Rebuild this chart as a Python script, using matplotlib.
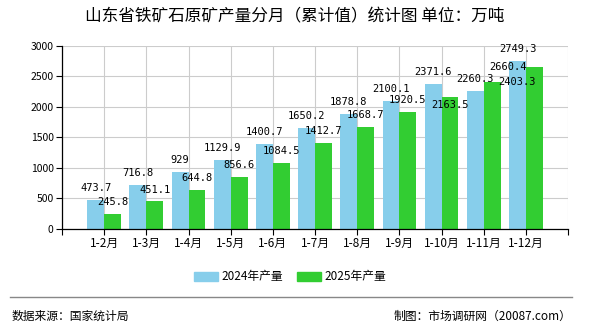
import numpy as np
import matplotlib.pyplot as plt
from matplotlib.patches import Patch
from matplotlib.lines import Line2D

plt.rcParams['font.family'] = ['Noto Sans CJK SC', 'DejaVu Sans']

# Dados do gráfico
meses = ["1-2月", "1-3月", "1-4月", "1-5月", "1-6月", "1-7月", "1-8月",
         "1-9月", "1-10月", "1-11月", "1-12月"]
prod_2024 = [473.7, 716.8, 929, 1129.9, 1400.7, 1650.2, 1878.8,
             2100.1, 2371.6, 2260.3, 2749.3]
prod_2025 = [245.8, 451.1, 644.8, 856.6, 1084.5, 1412.7, 1668.7,
             1920.5, 2163.5, 2403.3, 2660.4]
rotulos_2024 = ["473.7", "716.8", "929", "1129.9", "1400.7", "1650.2",
                "1878.8", "2100.1", "2371.6", "2260.3", "2749.3"]
rotulos_2025 = ["245.8", "451.1", "644.8", "856.6", "1084.5", "1412.7",
                "1668.7", "1920.5", "2163.5", "2403.3", "2660.4"]

azul = "#87CEEB"
verde = "#32CD32"

fig = plt.figure(figsize=(5.9, 3.3), dpi=100)
ax = fig.add_axes([0.105, 0.306, 0.858, 0.555])

x = np.arange(len(meses))
w = 0.4
ax.bar(x - w / 2, prod_2024, w, color=azul, zorder=2)
ax.bar(x + w / 2, prod_2025, w, color=verde, zorder=2)

fonte_num = "DejaVu Sans Mono"
for i in range(len(meses)):
    ax.annotate(rotulos_2024[i], (x[i] - w / 2, prod_2024[i]), xytext=(0, 5),
                textcoords="offset points", ha="center", va="bottom",
                fontsize=7.5, family=fonte_num, zorder=3)

# rótulos de 2025 (alguns foram deslocados no original para evitar sobreposição)
desloc = {8: (0, -6, "center"), 9: (18, 0, "center"), 10: (-19, 0, "center")}
for i in range(len(meses)):
    dx, dy, va = desloc.get(i, (0, 5, "bottom"))
    ax.annotate(rotulos_2025[i], (x[i] + w / 2, prod_2025[i]), xytext=(dx, dy),
                textcoords="offset points", ha="center", va=va,
                fontsize=7.5, family=fonte_num, zorder=3)

# Eixos
ax.set_xlim(-1, len(meses))
ax.set_ylim(0, 3000)
ax.set_yticks(range(0, 3001, 500))
ax.set_yticklabels([str(v) for v in range(0, 3001, 500)], fontsize=7.5)
ax.set_xticks(np.arange(-1, len(meses) + 1))
ax.set_xticklabels([""] + meses + [""], fontsize=8.5)
ax.tick_params(axis="both", length=4, width=0.8, colors="black", pad=2)
ax.grid(True, color="#cccccc", linewidth=0.8, zorder=0)
ax.spines["top"].set_visible(False)
ax.spines["right"].set_visible(False)
ax.spines["left"].set_linewidth(0.9)
ax.spines["bottom"].set_linewidth(0.9)

# Título
fig.text(0.499, 0.95, "山东省铁矿石原矿产量分月（累计值）统计图 单位：万吨",
         ha="center", va="center", fontsize=12)

# Legenda
handles = [Patch(color=azul, label="2024年产量"), Patch(color=verde, label="2025年产量")]
fig.legend(handles=handles, loc="center", bbox_to_anchor=(0.492, 0.161), ncol=2,
           frameon=False, fontsize=8.5, handlelength=2.0, handleheight=0.8,
           columnspacing=1.2, handletextpad=0.3)

# Rodapé
fig.add_artist(Line2D([0.017, 0.969], [0.1, 0.1], color="#888888", linewidth=1))
fig.text(0.02, 0.042, "数据来源：国家统计局", ha="left", va="center", fontsize=8.5)
fig.text(0.969, 0.042, "制图：市场调研网（20087.com）", ha="right", va="center", fontsize=8.5)

fig.savefig("out.png", dpi=100)
